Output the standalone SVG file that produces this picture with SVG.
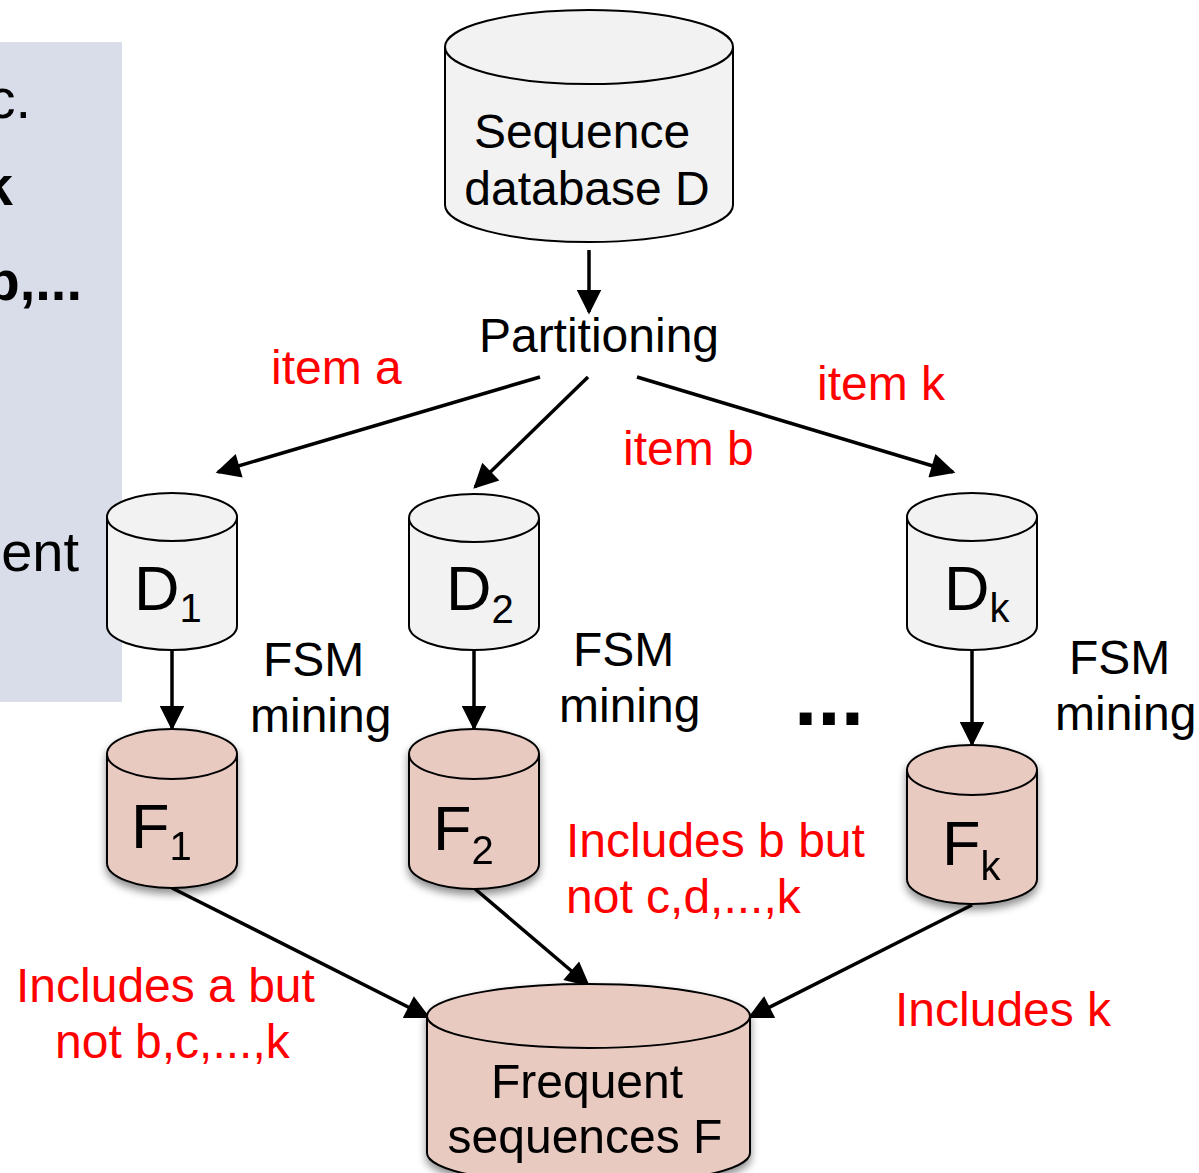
<svg xmlns="http://www.w3.org/2000/svg" width="1199" height="1173" viewBox="0 0 1199 1173">
  <style>
    .txt { font-family: "Liberation Sans", Arial, sans-serif; fill: #000; }
    .big { font-size: 48px; }
    .lbl { font-family: "Liberation Sans", Arial, sans-serif; font-size: 48px; fill: #ff0000; }
    .sym { font-family: "Liberation Sans", Arial, sans-serif; font-size: 63px; fill: #000; }
    .db { fill: #f2f2f2; stroke: #000; stroke-width: 2; }
    .fq { fill: #e8cac1; stroke: #000; stroke-width: 2; }
    .edge { stroke: #000; stroke-width: 3.5; fill: none; marker-end: url(#arrow); }
  </style>
  <defs>
    <marker id="arrow" viewBox="0 0 10 10" refX="9" refY="5" markerWidth="8" markerHeight="7" markerUnits="strokeWidth" orient="auto">
      <path d="M0,0 L10,5 L0,10 Z" fill="#000"/>
    </marker>
    <filter id="shadow" x="-20%" y="-20%" width="140%" height="150%">
      <feGaussianBlur in="SourceAlpha" stdDeviation="4"/>
      <feOffset dx="0" dy="5" result="blur"/>
      <feComponentTransfer><feFuncA type="linear" slope="0.45"/></feComponentTransfer>
      <feMerge><feMergeNode/><feMergeNode in="SourceGraphic"/></feMerge>
    </filter>
  </defs>

  <rect width="1199" height="1173" fill="#fff"/>

  <!-- side panel with clipped bullet text -->
  <g id="side-panel">
    <rect x="0" y="42" width="122" height="660" fill="#d8dde9"/>
    <text class="txt" x="31" y="118" font-size="56" text-anchor="end">c.</text>
    <text class="txt" x="13" y="205" font-size="56" font-weight="bold" text-anchor="end">k</text>
    <text class="txt" x="82" y="300" font-size="56" font-weight="bold" text-anchor="end">b,...</text>
    <text class="txt" x="79" y="571" font-size="56" text-anchor="end">ent</text>
  </g>

  <!-- connectors -->
  <g id="connectors">
    <line class="edge" x1="589" y1="250" x2="589" y2="312"/>
    <line class="edge" x1="540" y1="377" x2="218" y2="472"/>
    <line class="edge" x1="588" y1="377" x2="475" y2="487"/>
    <line class="edge" x1="637" y1="377" x2="953" y2="472"/>
    <line class="edge" x1="172" y1="650" x2="172" y2="728"/>
    <line class="edge" x1="474" y1="650" x2="474" y2="728"/>
    <line class="edge" x1="972" y1="650" x2="972" y2="744"/>
    <line class="edge" x1="172" y1="888" x2="428" y2="1017"/>
    <line class="edge" x1="474" y1="888" x2="588" y2="985"/>
    <line class="edge" x1="972" y1="905" x2="750" y2="1017"/>
  </g>

  <!-- source database -->
  <g id="node-D">
    <path class="db" d="M445,47 L445,205 A144,37 0 0 0 733,205 L733,47"/>
    <ellipse class="db" cx="589" cy="47" rx="144" ry="37"/>
    <text class="txt big" x="582" y="148" text-anchor="middle">Sequence</text>
    <text class="txt big" x="587" y="205" text-anchor="middle">database D</text>
  </g>

  <g id="node-partitioning">
    <text class="txt big" x="599" y="352" text-anchor="middle">Partitioning</text>
  </g>

  <!-- partitions -->
  <g id="node-D1">
    <path class="db" d="M107,517 L107,626 A65,24 0 0 0 237,626 L237,517"/>
    <ellipse class="db" cx="172" cy="517" rx="65" ry="24"/>
    <text class="sym" x="134" y="610">D<tspan font-size="40" dy="12">1</tspan></text>
  </g>
  <g id="node-D2">
    <path class="db" d="M409,518 L409,626 A65,24 0 0 0 539,626 L539,518"/>
    <ellipse class="db" cx="474" cy="518" rx="65" ry="24"/>
    <text class="sym" x="446" y="610">D<tspan font-size="40" dy="13">2</tspan></text>
  </g>
  <g id="node-Dk">
    <path class="db" d="M907,517 L907,626 A65,24 0 0 0 1037,626 L1037,517"/>
    <ellipse class="db" cx="972" cy="517" rx="65" ry="24"/>
    <text class="sym" x="944" y="610">D<tspan font-size="40" dy="12">k</tspan></text>
  </g>

  <!-- per-partition frequent sequences -->
  <g id="node-F1" filter="url(#shadow)">
    <path class="fq" d="M107,754 L107,863 A65,25 0 0 0 237,863 L237,754"/>
    <ellipse class="fq" cx="172" cy="754" rx="65" ry="25"/>
    <text class="sym" x="131" y="848">F<tspan font-size="40" dy="12">1</tspan></text>
  </g>
  <g id="node-F2" filter="url(#shadow)">
    <path class="fq" d="M409,754 L409,864 A65,25 0 0 0 539,864 L539,754"/>
    <ellipse class="fq" cx="474" cy="754" rx="65" ry="25"/>
    <text class="sym" x="433" y="850">F<tspan font-size="40" dy="14">2</tspan></text>
  </g>
  <g id="node-Fk" filter="url(#shadow)">
    <path class="fq" d="M907,770 L907,879 A65,25 0 0 0 1037,879 L1037,770"/>
    <ellipse class="fq" cx="972" cy="770" rx="65" ry="25"/>
    <text class="sym" x="942" y="865">F<tspan font-size="40" dy="15">k</tspan></text>
  </g>

  <!-- merged result -->
  <g id="node-F" filter="url(#shadow)">
    <path class="fq" d="M427,1016 L427,1153 A161.5,32 0 0 0 750,1153 L750,1016"/>
    <ellipse class="fq" cx="588.5" cy="1016" rx="161.5" ry="32"/>
    <text class="txt big" x="587" y="1098" text-anchor="middle">Frequent</text>
    <text class="txt big" x="585" y="1153" text-anchor="middle">sequences F</text>
  </g>

  <!-- mining step labels -->
  <g id="labels-mining">
    <text class="txt big" x="263" y="676">FSM</text>
    <text class="txt big" x="250" y="732">mining</text>
    <text class="txt big" x="573" y="666">FSM</text>
    <text class="txt big" x="559" y="722">mining</text>
    <text class="txt big" x="1069" y="674">FSM</text>
    <text class="txt big" x="1055" y="730">mining</text>
    <text class="txt" x="794" y="725" font-size="84" font-weight="bold">...</text>
  </g>

  <!-- edge annotations -->
  <g id="labels-items">
    <text class="lbl" x="271" y="384">item a</text>
    <text class="lbl" x="623" y="465">item b</text>
    <text class="lbl" x="817" y="400">item k</text>
    <text class="lbl" x="566" y="857">Includes b but</text>
    <text class="lbl" x="566" y="913">not c,d,...,k</text>
    <text class="lbl" x="16" y="1002">Includes a but</text>
    <text class="lbl" x="55" y="1058">not b,c,...,k</text>
    <text class="lbl" x="895" y="1026">Includes k</text>
  </g>
</svg>
